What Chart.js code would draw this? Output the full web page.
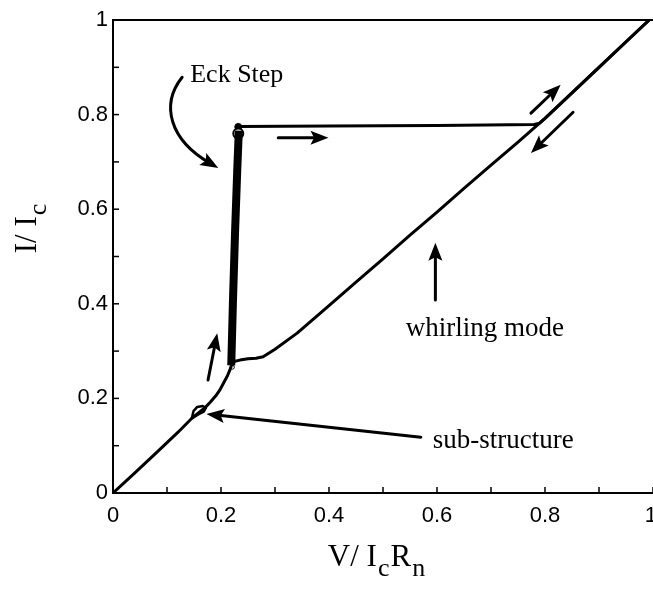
<!DOCTYPE html>
<html>
<head>
<meta charset="utf-8">
<script src="https://cdn.jsdelivr.net/npm/chart.js@4.4.1/dist/chart.umd.min.js"></script>
<style>
  html, body { margin: 0; padding: 0; background: #fff; overflow: hidden; }
  canvas { display: block; }
</style>
</head>
<body>
<canvas id="iv" width="660" height="595"></canvas>
<script>
// Normalised current-voltage characteristic of the junction (V/IcRn, I/Ic)

// Rising branch from zero up to the foot of the Eck step
const rampV = [0, 0.04, 0.08, 0.12, 0.146, 0.171, 0.180, 0.190, 0.198, 0.205, 0.212, 0.217, 0.221];
const rampI = [0, 0.042, 0.085, 0.128, 0.158, 0.181, 0.192, 0.205, 0.218, 0.233, 0.248, 0.262, 0.275];

// Small sub-structure loop on the rising branch
const loopV = [0.146, 0.149, 0.156, 0.166, 0.172, 0.168, 0.158, 0.149, 0.146];
const loopI = [0.158, 0.173, 0.182, 0.184, 0.180, 0.172, 0.166, 0.160, 0.158];

// Eck step (dense, nearly vertical trace)
const eckV = [0.219, 0.222, 0.226, 0.230, 0.233];
const eckI = [0.270, 0.400, 0.550, 0.680, 0.766];

// Upper branch: jump across to the ohmic line and up to the top
const upperV = [0.233, 0.40, 0.60, 0.78, 0.790, 0.800, 0.90, 0.993];
const upperI = [0.775, 0.776, 0.777, 0.779, 0.782, 0.792, 0.900, 1.000];

// Return branch down the whirling-mode line
const returnV = [0.993, 0.95, 0.90, 0.85, 0.80, 0.75, 0.70, 0.65, 0.60, 0.55, 0.50, 0.45, 0.40, 0.341, 0.30, 0.278, 0.265, 0.250, 0.235, 0.224];
const returnI = [1.000, 0.954, 0.900, 0.846, 0.792, 0.742, 0.693, 0.644, 0.594, 0.545, 0.495, 0.446, 0.396, 0.338, 0.304, 0.288, 0.285, 0.284, 0.281, 0.278];

// Switching points at the ends of the Eck step
const markV = [0.232, 0.232, 0.221];
const markI = [0.774, 0.760, 0.266];

// Axis tick values
const tickValues = [0, 0.1, 0.2, 0.3, 0.4, 0.5, 0.6, 0.7, 0.8, 0.9, 1];

const pts = (xs, ys) => xs.map((x, i) => ({ x, y: ys[i] }));

// Annotations in axis units
const labels = [
  { text: 'Eck Step', x: 0.143, y: 0.869, size: 26 },
  { text: 'whirling mode', x: 0.542, y: 0.332, size: 27 },
  { text: 'sub-structure', x: 0.592, y: 0.095, size: 27 }
];
const arrows = [
  { from: [0.176, 0.239], to: [0.193, 0.338] },
  { from: [0.306, 0.751], to: [0.399, 0.751] },
  { from: [0.774, 0.803], to: [0.829, 0.863] },
  { from: [0.852, 0.805], to: [0.774, 0.719] },
  { from: [0.597, 0.408], to: [0.597, 0.529] },
  { from: [0.570, 0.118], to: [0.173, 0.167] }
];
const curvedArrow = { from: [0.128, 0.879], c1: [0.087, 0.820], c2: [0.106, 0.746], to: [0.195, 0.687] };

const lineSet = (data, w) => ({
  data, showLine: true, borderColor: '#000', borderWidth: w,
  pointRadius: 0, tension: 0, fill: false, borderJoinStyle: 'round', borderCapStyle: 'round'
});

function drawHead(ctx, x2, y2, ang, len, wid) {
  ctx.save();
  ctx.translate(x2, y2);
  ctx.rotate(ang);
  ctx.beginPath();
  ctx.moveTo(0, 0);
  ctx.lineTo(-len, -wid / 2);
  ctx.lineTo(-len * 0.8, 0);
  ctx.lineTo(-len, wid / 2);
  ctx.closePath();
  ctx.fill();
  ctx.restore();
}

const decorations = {
  id: 'decorations',
  afterDatasetsDraw(chart) {
    const { ctx } = chart;
    const sx = chart.scales.x, sy = chart.scales.y;
    const P = p => [sx.getPixelForValue(p[0]), sy.getPixelForValue(p[1])];
    ctx.save();
    ctx.fillStyle = '#000';
    ctx.strokeStyle = '#000';
    ctx.lineWidth = 3;
    ctx.lineCap = 'round';

    // straight arrows
    arrows.forEach(a => {
      const [x1, y1] = P(a.from), [x2, y2] = P(a.to);
      const ang = Math.atan2(y2 - y1, x2 - x1);
      ctx.beginPath();
      ctx.moveTo(x1, y1);
      ctx.lineTo(x2 - Math.cos(ang) * 10, y2 - Math.sin(ang) * 10);
      ctx.stroke();
      drawHead(ctx, x2, y2, ang, 18, 14);
    });

    // curved arrow pointing at the Eck step
    {
      const [x1, y1] = P(curvedArrow.from), [ax, ay] = P(curvedArrow.c1),
            [bx, by] = P(curvedArrow.c2), [x2, y2] = P(curvedArrow.to);
      const ang = Math.atan2(y2 - by, x2 - bx);
      ctx.beginPath();
      ctx.moveTo(x1, y1);
      ctx.bezierCurveTo(ax, ay, bx, by, x2 - Math.cos(ang) * 10, y2 - Math.sin(ang) * 10);
      ctx.stroke();
      drawHead(ctx, x2, y2, ang, 18, 14);
    }

    // text labels
    ctx.textAlign = 'left';
    ctx.textBaseline = 'alphabetic';
    labels.forEach(l => {
      const [x, y] = P([l.x, l.y]);
      ctx.font = l.size + 'px "Liberation Serif", "Times New Roman", serif';
      ctx.fillText(l.text, x, y);
    });
    ctx.restore();
  },
  afterDraw(chart) {
    const { ctx, chartArea: ca } = chart;
    const sx = chart.scales.x, sy = chart.scales.y;
    ctx.save();
    ctx.strokeStyle = '#000';
    ctx.lineWidth = 2;
    // top frame line
    ctx.beginPath();
    ctx.moveTo(ca.left, ca.top);
    ctx.lineTo(ca.right + 2, ca.top);
    ctx.stroke();
    // inward tick marks
    ctx.lineWidth = 1.5;
    tickValues.forEach(v => {
      const px = sx.getPixelForValue(v);
      ctx.beginPath();
      ctx.moveTo(px, ca.bottom);
      ctx.lineTo(px, ca.bottom - 6);
      ctx.stroke();
      const py = sy.getPixelForValue(v);
      ctx.beginPath();
      ctx.moveTo(ca.left, py);
      ctx.lineTo(ca.left + 6, py);
      ctx.stroke();
    });

    // axis titles with subscripts
    const big = '31px "Liberation Serif", "Times New Roman", serif';
    const sub = '26px "Liberation Serif", "Times New Roman", serif';
    const runs = (parts, x0, y0) => {
      let x = x0;
      parts.forEach(([t, s]) => {
        ctx.font = s ? sub : big;
        ctx.fillText(t, x, y0 + (s ? 10 : 0));
        x += ctx.measureText(t).width + 1;
      });
    };
    const width = parts => parts.reduce((w, [t, s]) => { ctx.font = s ? sub : big; return w + ctx.measureText(t).width + 1; }, 0);
    ctx.fillStyle = '#000';
    ctx.textBaseline = 'alphabetic';
    ctx.textAlign = 'left';

    const xt = [['V/ I', false], ['c', true], ['R', false], ['n', true]];
    runs(xt, 377 - width(xt) / 2, 566);

    const yt = [['I/ I', false], ['c', true]];
    ctx.save();
    ctx.translate(36, 228);
    ctx.rotate(-Math.PI / 2);
    runs(yt, -width(yt) / 2, 0);
    ctx.restore();
    ctx.restore();
  }
};

const tickLabel = v => {
  const k = Math.round(v * 10);
  if (k % 2 !== 0) return '';
  if (k === 0) return '0';
  if (k === 10) return '1';
  return (k / 10).toFixed(1);
};
// the last x label sits at the right edge of the page; a thin trailing space keeps the digit in view
const xTickLabel = v => (Math.round(v * 10) === 10 ? '1\u2009' : tickLabel(v));

const zeroPad = s => { s.paddingLeft = 0; s.paddingRight = 0; s.paddingTop = 0; s.paddingBottom = 0; };

new Chart(document.getElementById('iv'), {
  type: 'scatter',
  data: {
    datasets: [
      lineSet(pts(returnV, returnI), 3),
      lineSet(pts(rampV, rampI), 3),
      lineSet(pts(loopV, loopI), 2.5),
      lineSet(pts(upperV, upperI), 3),
      Object.assign(lineSet(pts(eckV, eckI), 8), { borderCapStyle: 'butt' }),
      {
        data: pts(markV, markI), showLine: false,
        pointRadius: [3.5, 5, 2], pointBorderWidth: [1, 2, 1],
        pointBackgroundColor: ['#000', '#fff', '#fff'], pointBorderColor: '#000'
      }
    ]
  },
  options: {
    responsive: false,
    animation: false,
    layout: { padding: { top: 20, left: 0, right: 0, bottom: 0 } },
    plugins: { legend: { display: false }, tooltip: { enabled: false } },
    scales: {
      x: {
        type: 'linear', min: 0, max: 1,
        afterBuildTicks: s => { s.ticks = tickValues.map(v => ({ value: v })); },
        afterFit: s => { s.height = 102; zeroPad(s); },
        grid: { drawOnChartArea: false, drawTicks: false },
        border: { color: '#000', width: 2 },
        ticks: {
          autoSkip: false, maxRotation: 0, color: '#000', padding: 10,
          font: { family: '"Liberation Sans", Arial, sans-serif', size: 22 },
          callback: xTickLabel
        }
      },
      y: {
        type: 'linear', min: 0, max: 1,
        afterBuildTicks: s => { s.ticks = tickValues.map(v => ({ value: v })); },
        afterFit: s => { s.width = 113; zeroPad(s); },
        grid: { drawOnChartArea: false, drawTicks: false },
        border: { color: '#000', width: 2 },
        ticks: {
          autoSkip: false, color: '#000', padding: 5,
          font: { family: '"Liberation Sans", Arial, sans-serif', size: 22 },
          callback: tickLabel
        }
      }
    }
  },
  plugins: [decorations]
});
</script>
</body>
</html>
